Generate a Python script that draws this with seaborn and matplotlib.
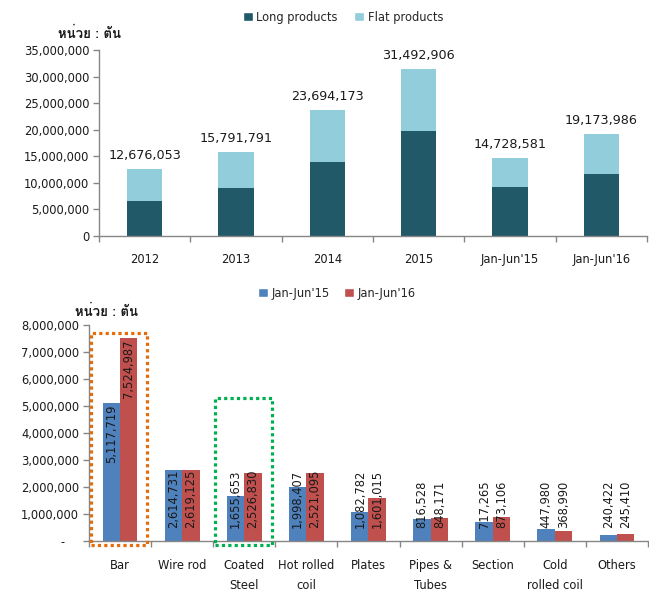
import numpy as np
import pandas as pd
import matplotlib
matplotlib.use("Agg")
import matplotlib.pyplot as plt
from matplotlib.patches import Rectangle, Patch
from matplotlib import font_manager
from matplotlib.ft2font import FT2Font
import seaborn as sns

# ---------------- data ----------------
periods = ["2012", "2013", "2014", "2015", "Jan-Jun'15", "Jan-Jun'16"]
totals = [12676053, 15791791, 23694173, 31492906, 14728581, 19173986]
long_products = [6600000, 9000000, 13900000, 19800000, 9200000, 11650000]

categories = ["Bar", "Wire rod", "Coated\nSteel", "Hot rolled\ncoil", "Plates",
              "Pipes &\nTubes", "Section", "Cold\nrolled coil", "Others"]
jan_jun15 = [5117719, 2614731, 1655653, 1998407, 1082782, 816528, 717265, 447980, 240422]
jan_jun16 = [7524987, 2619125, 2526830, 2521095, 1601015, 848171, 873106, 368990, 245410]
series_names = ["Jan-Jun'15", "Jan-Jun'16"]

unit_label = "หน่วย : ตัน"

# ---------------- fonts ----------------
sns.set_style("white")
thai_family = None
for f in font_manager.fontManager.ttflist:
    try:
        cm = FT2Font(f.fname).get_charmap()
        if 0x0E2B in cm and 0x0E19 in cm and 0x0E48 in cm:
            thai_family = f.name
            break
    except Exception:
        pass
fams = ["DejaVu Sans"] + ([thai_family] if thai_family else [])
plt.rcParams["font.family"] = fams
thai_fams = ([thai_family] if thai_family else []) + ["DejaVu Sans"]

LONG_C = "#215968"
FLAT_C = "#92CDDC"
BLUE_C = "#4F81BD"
RED_C = "#C0504D"
AXIS_C = "#868686"
TXT_C = "#1a1a1a"

fig = plt.figure(figsize=(6.49, 5.92), dpi=100)

# ---------------- top chart ----------------
ax1 = fig.add_axes([99 / 649, (592 - 236) / 592, 548 / 649, 186 / 592])
df1 = pd.DataFrame({"period": periods, "total": totals, "long": long_products})
sns.barplot(data=df1, x="period", y="total", color=FLAT_C, width=0.39,
            saturation=1, ax=ax1, order=periods, linewidth=0, edgecolor="none")
sns.barplot(data=df1, x="period", y="long", color=LONG_C, width=0.39,
            saturation=1, ax=ax1, order=periods, linewidth=0, edgecolor="none")
ax1.set_ylim(0, 35000000)
ax1.set_xlim(-0.5, len(periods) - 0.5)
ax1.set_yticks(np.arange(0, 35000001, 5000000))
ax1.set_yticklabels([f"{v:,.0f}" for v in ax1.get_yticks()])
for i, t in enumerate(totals):
    ax1.annotate(f"{t:,}", xy=(i, t), xytext=(0, 5), textcoords="offset points",
                 ha="center", va="bottom", fontsize=9.2, color=TXT_C)
ax1.set_xlabel("")
ax1.set_ylabel("")

# ---------------- bottom chart ----------------
ax2 = fig.add_axes([89 / 649, (592 - 541) / 592, 559 / 649, 216 / 592])
df2 = pd.DataFrame({
    "category": categories * 2,
    "value": jan_jun15 + jan_jun16,
    "series": [series_names[0]] * len(categories) + [series_names[1]] * len(categories),
})
sns.barplot(data=df2, x="category", y="value", hue="series", hue_order=series_names,
            palette=[BLUE_C, RED_C], width=0.56, saturation=1, ax=ax2,
            order=categories, legend=False, linewidth=0, edgecolor="none")
ax2.set_ylim(0, 8000000)
ax2.set_xlim(-0.5, len(categories) - 0.5)
ax2.set_yticks(np.arange(0, 8000001, 1000000))
ax2.set_yticklabels(["-    " if v == 0 else f"{v:,.0f}" for v in ax2.get_yticks()])
ax2.set_xlabel("")
ax2.set_ylabel("")

for ax in (ax1, ax2):
    for s in ("top", "right"):
        ax.spines[s].set_visible(False)
    for s in ("left", "bottom"):
        ax.spines[s].set_color(AXIS_C)
        ax.spines[s].set_linewidth(1.0)
    n = len(ax.get_xticks())
    ax.set_xticks(np.arange(-0.5, n, 1), minor=True)
    ax.tick_params(axis="x", which="major", length=0, labelsize=8.3, colors=TXT_C)
    ax.tick_params(axis="x", which="minor", length=4, color=AXIS_C, width=1, bottom=True)
    ax.tick_params(axis="y", which="major", length=4, color=AXIS_C, width=1,
                   labelsize=8.3, labelcolor=TXT_C, left=True, pad=3)
ax1.tick_params(axis="x", which="major", pad=12)
ax2.tick_params(axis="x", which="major", pad=13)
for lbl in ax2.get_xticklabels():
    lbl.set_linespacing(1.65)

# value labels in bottom chart
fig.canvas.draw()
renderer = fig.canvas.get_renderer()
y0_disp = ax2.transData.transform((0, 0))[1]
min_bottom_px = 13.5
for cont in ax2.containers:
    for bar in cont:
        x = bar.get_x() + bar.get_width() / 2
        h = bar.get_height()
        txt = ax2.annotate(f"{h:,.0f}", xy=(x, h), xytext=(0, -1.5),
                           textcoords="offset points", rotation=90,
                           ha="center", va="top", fontsize=8.3, color=TXT_C)
        bb = txt.get_window_extent(renderer)
        top_disp = ax2.transData.transform((x, h))[1] - 2
        if top_disp - bb.height < y0_disp + min_bottom_px:
            txt.remove()
            ax2.annotate(f"{h:,.0f}", xy=(x, 0), xytext=(0, min_bottom_px * 0.72),
                         textcoords="offset points", rotation=90,
                         ha="center", va="bottom", fontsize=8.3, color=TXT_C)

# highlight boxes (dotted)
highlights = [("Bar", "#E46C0A", 7720000), ("Coated\nSteel", "#00B050", 5300000)]
for cat, col, top in highlights:
    i = categories.index(cat)
    ax2.add_patch(Rectangle((i - 0.47, -150000), 0.91, top + 150000, fill=False,
                            edgecolor=col, linewidth=2.3, linestyle=(0, (1, 1)),
                            clip_on=False, zorder=5))

# legends
h1 = [Patch(facecolor=LONG_C, label="Long products"), Patch(facecolor=FLAT_C, label="Flat products")]
fig.legend(handles=h1, loc="center", bbox_to_anchor=(343 / 649, 1 - 17 / 592), ncol=2,
           frameon=False, fontsize=8.3, handlelength=0.9, handleheight=0.9,
           handletextpad=0.3, columnspacing=1.4)
h2 = [Patch(facecolor=BLUE_C, label=series_names[0]), Patch(facecolor=RED_C, label=series_names[1])]
fig.legend(handles=h2, loc="center", bbox_to_anchor=(337 / 649, 1 - 293 / 592), ncol=2,
           frameon=False, fontsize=8.3, handlelength=0.9, handleheight=0.9,
           handletextpad=0.3, columnspacing=1.2)

# unit labels
fig.text(58 / 649, 1 - 34 / 592, unit_label, ha="left", va="center", fontsize=9.5,
         fontweight="bold", family=thai_fams, color=TXT_C)
fig.text(75 / 649, 1 - 312 / 592, unit_label, ha="left", va="center", fontsize=9.5,
         fontweight="bold", family=thai_fams, color=TXT_C)

fig.savefig("out.png", dpi=100)
